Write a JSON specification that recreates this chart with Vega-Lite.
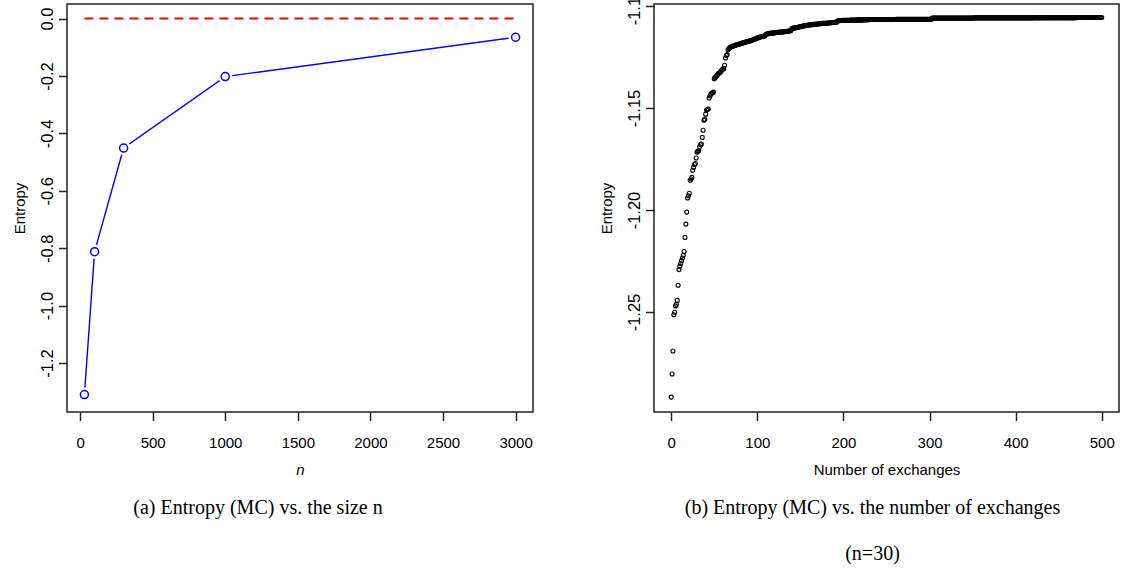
{
  "$schema": "https://vega.github.io/schema/vega-lite/v6.json",
  "padding": {"left": 11, "top": -14, "right": 4, "bottom": 0},
  "background": "white",
  "spacing": 64,
  "config": {
    "locale": {"number": {"decimal": ".", "thousands": ",", "grouping": [3], "currency": ["$", ""], "minus": "-"}},
    "view": {"stroke": "#222", "strokeWidth": 1.5},
    "axis": {"domain": false, "grid": false, "tickColor": "#222", "tickWidth": 1.5, "tickSize": 8.5, "labelFont": "Liberation Sans", "labelFontSize": 15, "labelColor": "#000", "titleFont": "Liberation Sans", "titleFontSize": 15, "titleFontWeight": "normal", "titleColor": "#000"},
    "axisY": {"labelAngle": -90, "labelAlign": "center", "labelBaseline": "alphabetic", "labelPadding": 6, "labelFontSize": 16.5, "titlePadding": 12},
    "axisX": {"labelPadding": 15, "titlePadding": 12},
    "title": {"font": "Liberation Serif", "fontSize": 20, "fontWeight": "normal", "orient": "bottom", "color": "#000", "offset": 20}
  },
  "hconcat": [
    {
      "width": 466,
      "height": 408,
      "title": {"text": "(a) Entropy (MC) vs. the size n", "dx": -42},
      "data": {"values": [
        {"n": 30, "e": -1.310},
        {"n": 100, "e": -0.812},
        {"n": 300, "e": -0.451},
        {"n": 1000, "e": -0.202},
        {"n": 3000, "e": -0.065}
      ]},
      "encoding": {
        "x": {"field": "n", "type": "quantitative", "scale": {"domain": [-90, 3120], "nice": false, "zero": false}, "axis": {"values": [0, 500, 1000, 1500, 2000, 2500, 3000], "format": "d", "title": "n", "titleFontStyle": "italic"}},
        "y": {"field": "e", "type": "quantitative", "scale": {"domain": [-1.3707, 0.0509], "nice": false, "zero": false}, "axis": {"values": [0, -0.2, -0.4, -0.6, -0.8, -1.0, -1.2], "format": ".1f", "title": "Entropy"}}
      },
      "layer": [
        {
          "data": {"values": [{"n": 30, "e": 0}, {"n": 3000, "e": 0}]},
          "mark": {"type": "line", "color": "#ff0000", "strokeDash": [9, 6], "strokeWidth": 2}
        },
        {"mark": {"type": "line", "color": "#0000ff", "strokeWidth": 1.4}},
        {"mark": {"type": "point", "shape": "circle", "filled": true, "color": "white", "size": 200, "opacity": 1}},
        {"mark": {"type": "point", "shape": "circle", "filled": false, "color": "#0000ff", "size": 64, "strokeWidth": 1.5, "opacity": 1}}
      ]
    },
    {
      "width": 465,
      "height": 408,
      "title": {"text": ["(b) Entropy (MC) vs. the number of exchanges", "(n=30)"], "dx": -14, "lineHeight": 46},
      "data": {"values": [
{"x":0,"e":-1.2917},{"x":1,"e":-1.2804},{"x":2,"e":-1.2691},{"x":3,"e":-1.2513},{"x":4,"e":-1.2501},{"x":5,"e":-1.2470},{"x":6,"e":-1.2462},{"x":7,"e":-1.2443},{"x":8,"e":-1.2369},{"x":9,"e":-1.2292},
{"x":10,"e":-1.2275},{"x":11,"e":-1.2262},{"x":12,"e":-1.2248},{"x":13,"e":-1.2235},{"x":14,"e":-1.2222},{"x":15,"e":-1.2203},{"x":16,"e":-1.2134},{"x":17,"e":-1.2069},{"x":18,"e":-1.2010},{"x":19,"e":-1.1941},
{"x":20,"e":-1.1930},{"x":21,"e":-1.1918},{"x":22,"e":-1.1854},{"x":23,"e":-1.1848},{"x":24,"e":-1.1840},{"x":25,"e":-1.1805},{"x":26,"e":-1.1790},{"x":27,"e":-1.1777},{"x":28,"e":-1.1772},{"x":29,"e":-1.1745},
{"x":30,"e":-1.1716},{"x":31,"e":-1.1712},{"x":32,"e":-1.1708},{"x":33,"e":-1.1690},{"x":34,"e":-1.1680},{"x":35,"e":-1.1676},{"x":36,"e":-1.1644},{"x":37,"e":-1.1609},{"x":38,"e":-1.1560},{"x":39,"e":-1.1555},
{"x":40,"e":-1.1530},{"x":41,"e":-1.1510},{"x":42,"e":-1.1507},{"x":43,"e":-1.1505},{"x":44,"e":-1.1451},{"x":45,"e":-1.1440},{"x":46,"e":-1.1432},{"x":47,"e":-1.1428},{"x":48,"e":-1.1425},{"x":49,"e":-1.1422},
{"x":50,"e":-1.1356},{"x":51,"e":-1.1350},{"x":52,"e":-1.1345},{"x":53,"e":-1.1340},{"x":54,"e":-1.1335},{"x":55,"e":-1.1330},{"x":56,"e":-1.1327},{"x":57,"e":-1.1325},{"x":58,"e":-1.1318},{"x":59,"e":-1.1312},
{"x":60,"e":-1.1309},{"x":61,"e":-1.1307},{"x":62,"e":-1.1290},{"x":63,"e":-1.1255},{"x":64,"e":-1.1242},{"x":65,"e":-1.1238},{"x":66,"e":-1.1214},{"x":67,"e":-1.1208},{"x":68,"e":-1.1204},{"x":69,"e":-1.1202},
{"x":70,"e":-1.1198},{"x":71,"e":-1.1197},{"x":72,"e":-1.1196},{"x":73,"e":-1.1195},{"x":74,"e":-1.1193},{"x":75,"e":-1.1191},{"x":76,"e":-1.1190},{"x":77,"e":-1.1189},{"x":78,"e":-1.1188},{"x":79,"e":-1.1186},
{"x":80,"e":-1.1185},{"x":81,"e":-1.1184},{"x":82,"e":-1.1182},{"x":83,"e":-1.1181},{"x":84,"e":-1.1180},{"x":85,"e":-1.1178},{"x":86,"e":-1.1177},{"x":87,"e":-1.1176},{"x":88,"e":-1.1175},{"x":89,"e":-1.1174},
{"x":90,"e":-1.1172},{"x":91,"e":-1.1171},{"x":92,"e":-1.1170},{"x":93,"e":-1.1169},{"x":94,"e":-1.1167},{"x":95,"e":-1.1165},{"x":96,"e":-1.1163},{"x":97,"e":-1.1162},{"x":98,"e":-1.1160},{"x":99,"e":-1.1158},
{"x":100,"e":-1.1157},{"x":101,"e":-1.1155},{"x":102,"e":-1.1154},{"x":103,"e":-1.1152},{"x":104,"e":-1.1151},{"x":105,"e":-1.1150},{"x":106,"e":-1.1149},{"x":107,"e":-1.1148},{"x":108,"e":-1.1147},{"x":109,"e":-1.1146},
{"x":110,"e":-1.1138},{"x":111,"e":-1.1137},{"x":112,"e":-1.1136},{"x":113,"e":-1.1135},{"x":114,"e":-1.1134},{"x":115,"e":-1.1134},{"x":116,"e":-1.1133},{"x":117,"e":-1.1133},{"x":118,"e":-1.1132},{"x":119,"e":-1.1132},
{"x":120,"e":-1.1131},{"x":121,"e":-1.1131},{"x":122,"e":-1.1130},{"x":123,"e":-1.1130},{"x":124,"e":-1.1129},{"x":125,"e":-1.1129},{"x":126,"e":-1.1128},{"x":127,"e":-1.1128},{"x":128,"e":-1.1127},{"x":129,"e":-1.1127},
{"x":130,"e":-1.1126},{"x":131,"e":-1.1126},{"x":132,"e":-1.1125},{"x":133,"e":-1.1125},{"x":134,"e":-1.1124},{"x":135,"e":-1.1124},{"x":136,"e":-1.1123},{"x":137,"e":-1.1122},{"x":138,"e":-1.1121},{"x":139,"e":-1.1120},
{"x":140,"e":-1.1110},{"x":141,"e":-1.1109},{"x":142,"e":-1.1108},{"x":143,"e":-1.1107},{"x":144,"e":-1.1106},{"x":145,"e":-1.1106},{"x":146,"e":-1.1105},{"x":147,"e":-1.1104},{"x":148,"e":-1.1103},{"x":149,"e":-1.1102},
{"x":150,"e":-1.1101},{"x":151,"e":-1.1100},{"x":152,"e":-1.1099},{"x":153,"e":-1.1098},{"x":154,"e":-1.1097},{"x":155,"e":-1.1096},{"x":156,"e":-1.1096},{"x":157,"e":-1.1095},{"x":158,"e":-1.1094},{"x":159,"e":-1.1093},
{"x":160,"e":-1.1093},{"x":161,"e":-1.1092},{"x":162,"e":-1.1092},{"x":163,"e":-1.1091},{"x":164,"e":-1.1091},{"x":165,"e":-1.1090},{"x":166,"e":-1.1090},{"x":167,"e":-1.1089},{"x":168,"e":-1.1089},{"x":169,"e":-1.1088},
{"x":170,"e":-1.1088},{"x":171,"e":-1.1087},{"x":172,"e":-1.1087},{"x":173,"e":-1.1086},{"x":174,"e":-1.1086},{"x":175,"e":-1.1085},{"x":176,"e":-1.1085},{"x":177,"e":-1.1085},{"x":178,"e":-1.1084},{"x":179,"e":-1.1084},
{"x":180,"e":-1.1084},{"x":181,"e":-1.1083},{"x":182,"e":-1.1083},{"x":183,"e":-1.1083},{"x":184,"e":-1.1082},{"x":185,"e":-1.1082},{"x":186,"e":-1.1082},{"x":187,"e":-1.1081},{"x":188,"e":-1.1081},{"x":189,"e":-1.1081},
{"x":190,"e":-1.1080},{"x":191,"e":-1.1080},{"x":192,"e":-1.1079},{"x":193,"e":-1.1073},{"x":194,"e":-1.1072},{"x":195,"e":-1.1072},{"x":196,"e":-1.1071},{"x":197,"e":-1.1071},{"x":198,"e":-1.1071},{"x":199,"e":-1.1070},
{"x":200,"e":-1.1070},{"x":201,"e":-1.1070},{"x":202,"e":-1.1070},{"x":203,"e":-1.1070},{"x":204,"e":-1.1070},{"x":205,"e":-1.1070},{"x":206,"e":-1.1070},{"x":207,"e":-1.1070},{"x":208,"e":-1.1069},{"x":209,"e":-1.1069},
{"x":210,"e":-1.1069},{"x":211,"e":-1.1069},{"x":212,"e":-1.1069},{"x":213,"e":-1.1069},{"x":214,"e":-1.1069},{"x":215,"e":-1.1069},{"x":216,"e":-1.1068},{"x":217,"e":-1.1068},{"x":218,"e":-1.1068},{"x":219,"e":-1.1068},
{"x":220,"e":-1.1068},{"x":221,"e":-1.1068},{"x":222,"e":-1.1068},{"x":223,"e":-1.1067},{"x":224,"e":-1.1067},{"x":225,"e":-1.1067},{"x":226,"e":-1.1067},{"x":227,"e":-1.1067},{"x":228,"e":-1.1067},{"x":229,"e":-1.1067},
{"x":230,"e":-1.1066},{"x":231,"e":-1.1066},{"x":232,"e":-1.1066},{"x":233,"e":-1.1066},{"x":234,"e":-1.1066},{"x":235,"e":-1.1066},{"x":236,"e":-1.1066},{"x":237,"e":-1.1066},{"x":238,"e":-1.1066},{"x":239,"e":-1.1066},
{"x":240,"e":-1.1066},{"x":241,"e":-1.1066},{"x":242,"e":-1.1066},{"x":243,"e":-1.1066},{"x":244,"e":-1.1066},{"x":245,"e":-1.1066},{"x":246,"e":-1.1066},{"x":247,"e":-1.1066},{"x":248,"e":-1.1066},{"x":249,"e":-1.1066},
{"x":250,"e":-1.1066},{"x":251,"e":-1.1066},{"x":252,"e":-1.1066},{"x":253,"e":-1.1066},{"x":254,"e":-1.1066},{"x":255,"e":-1.1066},{"x":256,"e":-1.1066},{"x":257,"e":-1.1066},{"x":258,"e":-1.1066},{"x":259,"e":-1.1066},
{"x":260,"e":-1.1066},{"x":261,"e":-1.1065},{"x":262,"e":-1.1065},{"x":263,"e":-1.1065},{"x":264,"e":-1.1065},{"x":265,"e":-1.1065},{"x":266,"e":-1.1065},{"x":267,"e":-1.1065},{"x":268,"e":-1.1065},{"x":269,"e":-1.1065},
{"x":270,"e":-1.1065},{"x":271,"e":-1.1065},{"x":272,"e":-1.1065},{"x":273,"e":-1.1065},{"x":274,"e":-1.1065},{"x":275,"e":-1.1065},{"x":276,"e":-1.1065},{"x":277,"e":-1.1065},{"x":278,"e":-1.1065},{"x":279,"e":-1.1065},
{"x":280,"e":-1.1065},{"x":281,"e":-1.1065},{"x":282,"e":-1.1065},{"x":283,"e":-1.1065},{"x":284,"e":-1.1065},{"x":285,"e":-1.1065},{"x":286,"e":-1.1065},{"x":287,"e":-1.1065},{"x":288,"e":-1.1065},{"x":289,"e":-1.1065},
{"x":290,"e":-1.1065},{"x":291,"e":-1.1065},{"x":292,"e":-1.1065},{"x":293,"e":-1.1065},{"x":294,"e":-1.1065},{"x":295,"e":-1.1065},{"x":296,"e":-1.1065},{"x":297,"e":-1.1065},{"x":298,"e":-1.1065},{"x":299,"e":-1.1065},
{"x":300,"e":-1.1065},{"x":301,"e":-1.1065},{"x":302,"e":-1.1065},{"x":303,"e":-1.1059},{"x":304,"e":-1.1059},{"x":305,"e":-1.1059},{"x":306,"e":-1.1059},{"x":307,"e":-1.1059},{"x":308,"e":-1.1059},{"x":309,"e":-1.1059},
{"x":310,"e":-1.1059},{"x":311,"e":-1.1059},{"x":312,"e":-1.1059},{"x":313,"e":-1.1059},{"x":314,"e":-1.1059},{"x":315,"e":-1.1059},{"x":316,"e":-1.1059},{"x":317,"e":-1.1059},{"x":318,"e":-1.1059},{"x":319,"e":-1.1059},
{"x":320,"e":-1.1059},{"x":321,"e":-1.1059},{"x":322,"e":-1.1059},{"x":323,"e":-1.1059},{"x":324,"e":-1.1059},{"x":325,"e":-1.1059},{"x":326,"e":-1.1059},{"x":327,"e":-1.1059},{"x":328,"e":-1.1059},{"x":329,"e":-1.1059},
{"x":330,"e":-1.1059},{"x":331,"e":-1.1059},{"x":332,"e":-1.1059},{"x":333,"e":-1.1059},{"x":334,"e":-1.1059},{"x":335,"e":-1.1059},{"x":336,"e":-1.1059},{"x":337,"e":-1.1059},{"x":338,"e":-1.1059},{"x":339,"e":-1.1059},
{"x":340,"e":-1.1059},{"x":341,"e":-1.1059},{"x":342,"e":-1.1059},{"x":343,"e":-1.1059},{"x":344,"e":-1.1059},{"x":345,"e":-1.1059},{"x":346,"e":-1.1059},{"x":347,"e":-1.1059},{"x":348,"e":-1.1059},{"x":349,"e":-1.1059},
{"x":350,"e":-1.1059},{"x":351,"e":-1.1058},{"x":352,"e":-1.1058},{"x":353,"e":-1.1058},{"x":354,"e":-1.1058},{"x":355,"e":-1.1058},{"x":356,"e":-1.1058},{"x":357,"e":-1.1058},{"x":358,"e":-1.1058},{"x":359,"e":-1.1058},
{"x":360,"e":-1.1058},{"x":361,"e":-1.1058},{"x":362,"e":-1.1058},{"x":363,"e":-1.1058},{"x":364,"e":-1.1058},{"x":365,"e":-1.1058},{"x":366,"e":-1.1058},{"x":367,"e":-1.1058},{"x":368,"e":-1.1058},{"x":369,"e":-1.1058},
{"x":370,"e":-1.1058},{"x":371,"e":-1.1058},{"x":372,"e":-1.1058},{"x":373,"e":-1.1058},{"x":374,"e":-1.1058},{"x":375,"e":-1.1058},{"x":376,"e":-1.1058},{"x":377,"e":-1.1058},{"x":378,"e":-1.1058},{"x":379,"e":-1.1058},
{"x":380,"e":-1.1058},{"x":381,"e":-1.1058},{"x":382,"e":-1.1058},{"x":383,"e":-1.1058},{"x":384,"e":-1.1058},{"x":385,"e":-1.1058},{"x":386,"e":-1.1058},{"x":387,"e":-1.1058},{"x":388,"e":-1.1058},{"x":389,"e":-1.1058},
{"x":390,"e":-1.1058},{"x":391,"e":-1.1058},{"x":392,"e":-1.1058},{"x":393,"e":-1.1058},{"x":394,"e":-1.1058},{"x":395,"e":-1.1058},{"x":396,"e":-1.1058},{"x":397,"e":-1.1058},{"x":398,"e":-1.1058},{"x":399,"e":-1.1058},
{"x":400,"e":-1.1058},{"x":401,"e":-1.1058},{"x":402,"e":-1.1058},{"x":403,"e":-1.1058},{"x":404,"e":-1.1058},{"x":405,"e":-1.1058},{"x":406,"e":-1.1058},{"x":407,"e":-1.1058},{"x":408,"e":-1.1058},{"x":409,"e":-1.1058},
{"x":410,"e":-1.1058},{"x":411,"e":-1.1058},{"x":412,"e":-1.1058},{"x":413,"e":-1.1058},{"x":414,"e":-1.1058},{"x":415,"e":-1.1058},{"x":416,"e":-1.1058},{"x":417,"e":-1.1058},{"x":418,"e":-1.1058},{"x":419,"e":-1.1058},
{"x":420,"e":-1.1058},{"x":421,"e":-1.1057},{"x":422,"e":-1.1057},{"x":423,"e":-1.1057},{"x":424,"e":-1.1057},{"x":425,"e":-1.1057},{"x":426,"e":-1.1057},{"x":427,"e":-1.1057},{"x":428,"e":-1.1057},{"x":429,"e":-1.1057},
{"x":430,"e":-1.1057},{"x":431,"e":-1.1057},{"x":432,"e":-1.1057},{"x":433,"e":-1.1057},{"x":434,"e":-1.1057},{"x":435,"e":-1.1057},{"x":436,"e":-1.1057},{"x":437,"e":-1.1057},{"x":438,"e":-1.1057},{"x":439,"e":-1.1057},
{"x":440,"e":-1.1057},{"x":441,"e":-1.1057},{"x":442,"e":-1.1057},{"x":443,"e":-1.1057},{"x":444,"e":-1.1057},{"x":445,"e":-1.1057},{"x":446,"e":-1.1057},{"x":447,"e":-1.1057},{"x":448,"e":-1.1057},{"x":449,"e":-1.1057},
{"x":450,"e":-1.1057},{"x":451,"e":-1.1057},{"x":452,"e":-1.1057},{"x":453,"e":-1.1057},{"x":454,"e":-1.1057},{"x":455,"e":-1.1057},{"x":456,"e":-1.1057},{"x":457,"e":-1.1057},{"x":458,"e":-1.1057},{"x":459,"e":-1.1057},
{"x":460,"e":-1.1057},{"x":461,"e":-1.1057},{"x":462,"e":-1.1057},{"x":463,"e":-1.1057},{"x":464,"e":-1.1057},{"x":465,"e":-1.1057},{"x":466,"e":-1.1057},{"x":467,"e":-1.1057},{"x":468,"e":-1.1057},{"x":469,"e":-1.1057},
{"x":470,"e":-1.1057},{"x":471,"e":-1.1056},{"x":472,"e":-1.1056},{"x":473,"e":-1.1056},{"x":474,"e":-1.1056},{"x":475,"e":-1.1056},{"x":476,"e":-1.1056},{"x":477,"e":-1.1056},{"x":478,"e":-1.1056},{"x":479,"e":-1.1056},
{"x":480,"e":-1.1056},{"x":481,"e":-1.1056},{"x":482,"e":-1.1056},{"x":483,"e":-1.1056},{"x":484,"e":-1.1056},{"x":485,"e":-1.1056},{"x":486,"e":-1.1056},{"x":487,"e":-1.1056},{"x":488,"e":-1.1056},{"x":489,"e":-1.1056},
{"x":490,"e":-1.1056},{"x":491,"e":-1.1056},{"x":492,"e":-1.1056},{"x":493,"e":-1.1056},{"x":494,"e":-1.1056},{"x":495,"e":-1.1056},{"x":496,"e":-1.1056},{"x":497,"e":-1.1056},{"x":498,"e":-1.1056},{"x":499,"e":-1.1056},
{"x":500,"e":-1.1056}
      ]},
      "mark": {"type": "point", "shape": "circle", "filled": false, "color": "#000", "size": 16, "strokeWidth": 1.1, "opacity": 1},
      "encoding": {
        "x": {"field": "x", "type": "quantitative", "scale": {"domain": [-20, 520], "nice": false, "zero": false}, "axis": {"values": [0, 100, 200, 300, 400, 500], "format": "d", "title": "Number of exchanges"}},
        "y": {"field": "e", "type": "quantitative", "scale": {"domain": [-1.2990, -1.0990], "nice": false, "zero": false}, "axis": {"values": [-1.25, -1.20, -1.15, -1.10], "format": ".2f", "title": "Entropy"}}
      }
    }
  ]
}
